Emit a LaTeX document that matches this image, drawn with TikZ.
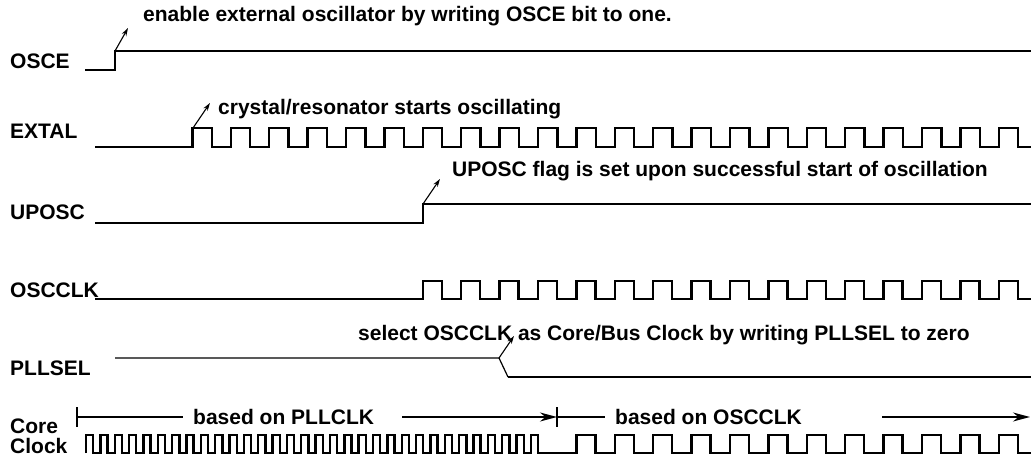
\documentclass[tikz,border=0pt]{standalone}
\usepackage{fontspec}
\setmainfont{Liberation Sans}
\usetikzlibrary{arrows.meta,positioning}

\begin{document}
\begin{tikzpicture}[x=1pt,y=-1pt,
    sig/.style={font=\fontsize{21}{21}\selectfont\bfseries,inner sep=0pt,anchor=base west},
    note/.style={font=\fontsize{21}{21}\selectfont\bfseries,inner sep=0pt,anchor=base west},
    spantext/.style={font=\fontsize{21}{21}\selectfont\bfseries,inner sep=0pt,anchor=west},
    wave/.style={line width=2.4pt},
    thinwave/.style={line width=1.2pt},
    hint/.style={-{Stealth[length=8pt,width=5pt]},line width=1.1pt},
    span/.style={-{Stealth[length=17pt,width=9pt]},line width=1.5pt},
    tickmark/.style={line width=1.5pt}
  ]
    \useasboundingbox (0,0) rectangle (1031,457);

    % signal names
    \node[sig] (osce) at (10,69) {OSCE};
    \node[sig] (extal) at (10,139) {EXTAL};
    \node[sig] (uposc) at (10,220) {UPOSC};
    \node[sig] (oscclk) at (10,297) {OSCCLK};
    \node[sig] (pllsel) at (10,375) {PLLSEL};
    \node[sig,align=left,font=\fontsize{21}{20}\selectfont\bfseries] (coreclk) at (10,453) {Core\\Clock};

    % OSCE
    \draw[wave] (85,70) -- (115,70) -- (115,51) -- (1031,51);
    \coordinate (osceup) at (115,51);
    \coordinate (oscetip) at (128,28);
    \node[note] (oscenote) at (143,22) {enable external oscillator by writing OSCE bit to one.};
    \draw[hint] (osceup) -- (oscetip);

    % EXTAL
    \draw[wave] (95,147) \foreach \k in {0,...,21} {
        -- ({192.3+38.4*\k},147) -- ++(0,-19) -- ++(19.5,0) -- ++(0,19)} -- (1031,147);
    \coordinate (extalup) at (193,128);
    \coordinate (extaltip) at (210,103);
    \node[note] (extalnote) at (218,115) {crystal/resonator starts oscillating};
    \draw[hint] (extalup) -- (extaltip);

    % UPOSC
    \draw[wave] (95,223) -- (422.7,223) -- (422.7,204) -- (1031,204);
    \coordinate (uposcup) at (423,204);
    \coordinate (upostip) at (440,179);
    \node[note] (uposcnote) at (452,177) {UPOSC flag is set upon successful start of oscillation};
    \draw[hint] (uposcup) -- (upostip);

    % OSCCLK
    \draw[wave] (95,299) \foreach \k in {0,...,15} {
        -- ({422.7+38.4*\k},299) -- ++(0,-18) -- ++(19,0) -- ++(0,18)} -- (1031,299);

    % PLLSEL
    \draw[thinwave] (115,358) -- (499,358) -- (508,377);
    \draw[wave] (508,377) -- (1031,377);
    \coordinate (pllseldn) at (499,358);
    \coordinate (pllseltip) at (514,336);
    \node[note] (pllselnote) at (358,340) {select OSCCLK as Core/Bus Clock by writing PLLSEL to zero};
    \draw[hint] (pllseldn) -- (pllseltip);

    % core clock: fast PLLCLK, then OSCCLK
    \draw[wave] (86,453) \foreach \k in {0,...,31} {
        -- ({86+14.35*\k},453) -- ++(0,-18) -- ++(7.2,0) -- ++(0,18)}
      \foreach \k in {0,...,11} {
        -- ({576.3+38.4*\k},453) -- ++(0,-18) -- ++(19,0) -- ++(0,18)} -- (1031,453);

    % spans
    \coordinate (spanA) at (77,417);
    \coordinate (spanB) at (557,417);
    \coordinate (spanC) at (1030,417);
    \node[spantext] (pllspan) at (193,417) {based on PLLCLK};
    \node[spantext] (oscspan) at (615,417) {based on OSCCLK};
    \draw[tickmark] ([yshift=10pt]spanA) -- ([yshift=-10pt]spanA);
    \draw[tickmark] ([yshift=10pt]spanB) -- ([yshift=-10pt]spanB);
    \draw[tickmark,shorten >=10pt] (spanA) -- (pllspan.west);
    \draw[span,shorten <=28pt] (pllspan.east) -- (spanB);
    \draw[tickmark,shorten >=10pt] (spanB) -- (oscspan.west);
    \draw[span,shorten <=80pt] (oscspan.east) -- (spanC);
  \end{tikzpicture}
\end{document}
